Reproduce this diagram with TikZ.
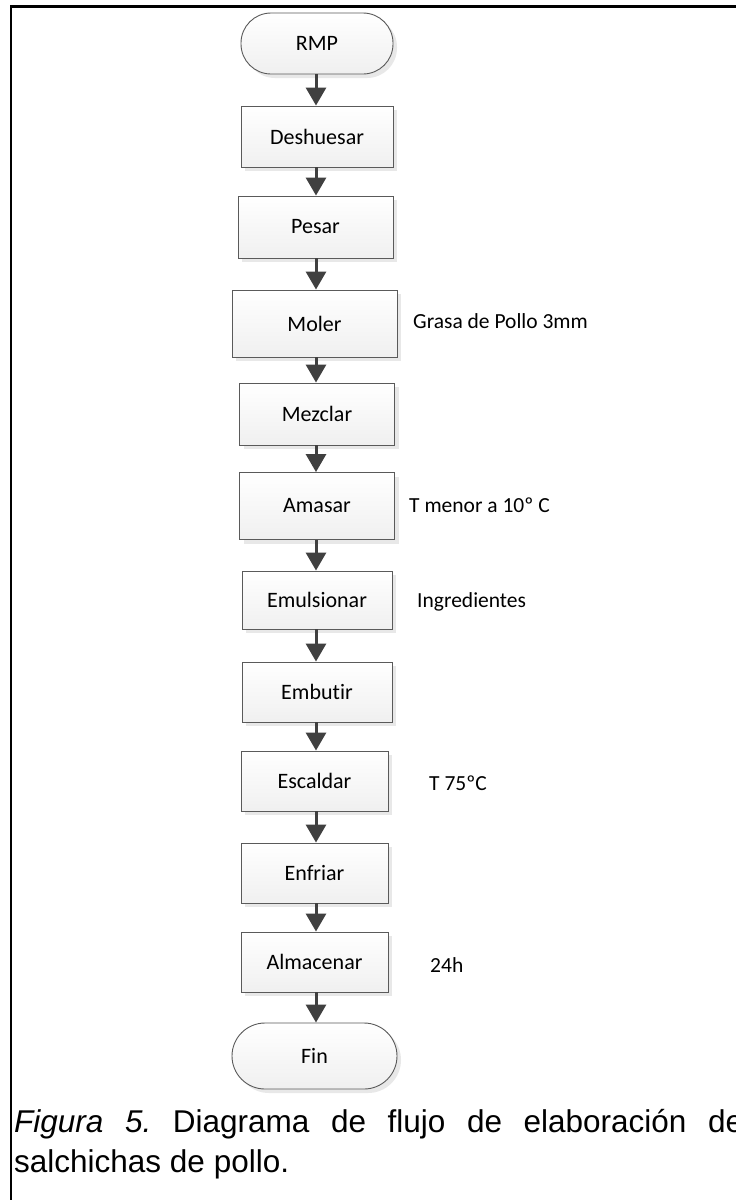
\documentclass[tikz,border=0pt]{standalone}
\usepackage{fontspec}
\setmainfont{Liberation Sans}
\newfontfamily\carlito[Ligatures={NoCommon}]{Carlito}
\usetikzlibrary{arrows.meta,shadows,calc}
\definecolor{edge}{HTML}{5A5A5A}
\definecolor{arr}{HTML}{404040}
\frenchspacing
\tikzset{
  stepbox/.style={rectangle, draw=edge, line width=0.9pt, top color=white, bottom color=gray!12,
    drop shadow={shadow xshift=4pt, shadow yshift=-4pt, fill=gray!18, opacity=1},
    font=\carlito\fontsize{22}{26}\selectfont, inner sep=0pt},
  termbox/.style={stepbox, rounded corners=30pt},
  note/.style={anchor=west, inner sep=0pt, font=\carlito\fontsize{21.5}{26}\selectfont},
  flow/.style={draw=arr, line width=3pt, -{Triangle[width=20pt,length=18pt]}},
}
\begin{document}
\begin{tikzpicture}[x=1pt,y=-1pt]
\useasboundingbox (0,0) rectangle (736,1200);
\fill[white] (0,0) rectangle (736,1200);
\coordinate (fa) at (11,1210);
\coordinate (fb) at (11,6.5);
\coordinate (fc) at (745,6.5);
\draw[line width=2.2pt] (fa) -- (fb) -- (fc);
\coordinate (ax) at (316,0);

\node[termbox, minimum width=152pt, minimum height=61pt] (rmp) at (317,43.5) {RMP};
\node[stepbox, minimum width=152pt, minimum height=61pt] (desh) at (317,136.5) {Deshuesar};
\node[stepbox, minimum width=155pt, minimum height=62pt] (pesar) at (315.5,227) {Pesar};
\node[stepbox, minimum width=165pt, minimum height=67pt] (moler) at (314.5,323.5) {Moler};
\node[stepbox, minimum width=155pt, minimum height=62pt] (mezclar) at (317,414) {Mezclar};
\node[stepbox, minimum width=155pt, minimum height=67pt] (amasar) at (317,506) {Amasar};
\node[stepbox, minimum width=150pt, minimum height=58pt] (emul) at (317,600) {Emulsionar};
\node[stepbox, minimum width=150pt, minimum height=60pt] (embutir) at (317,692) {Embutir};
\node[stepbox, minimum width=147pt, minimum height=60pt] (escaldar) at (314.5,781) {Escaldar};
\node[stepbox, minimum width=147pt, minimum height=60pt] (enfriar) at (314.5,873) {Enfriar};
\node[stepbox, minimum width=147pt, minimum height=60pt] (almacenar) at (314.5,962) {Almacenar};
\node[termbox, minimum width=165pt, minimum height=66pt, rounded corners=33pt] (fin) at (314.5,1056) {Fin};

\node[note] (n1) at (413,321) {Grasa de Pollo 3mm};
\node[note] (n2) at (409,505) {T menor a 10º C};
\node[note] (n3) at (417,602) {Ingredientes};
\node[note] (n4) at (429,783) {T 75ºC};
\node[note] (n5) at (430,965) {24h};

\foreach \a/\b in {rmp/desh, desh/pesar, pesar/moler, moler/mezclar, mezclar/amasar, amasar/emul, emul/embutir, embutir/escaldar, escaldar/enfriar, enfriar/almacenar, almacenar/fin}
  \draw[flow] (\a.south -| ax) -- (\b.north -| ax);

\node[anchor=base west, inner sep=0pt, font=\fontsize{31.5}{40}\selectfont] (cap1) at (14,1132)
  {\makebox[729pt][s]{\textit{Figura 5.} Diagrama de flujo de elaboración de}};
\node[anchor=base west, inner sep=0pt, font=\fontsize{31.5}{40}\selectfont] (cap2) at (14,1172)
  {salchichas de pollo.};
\end{tikzpicture}
\end{document}
